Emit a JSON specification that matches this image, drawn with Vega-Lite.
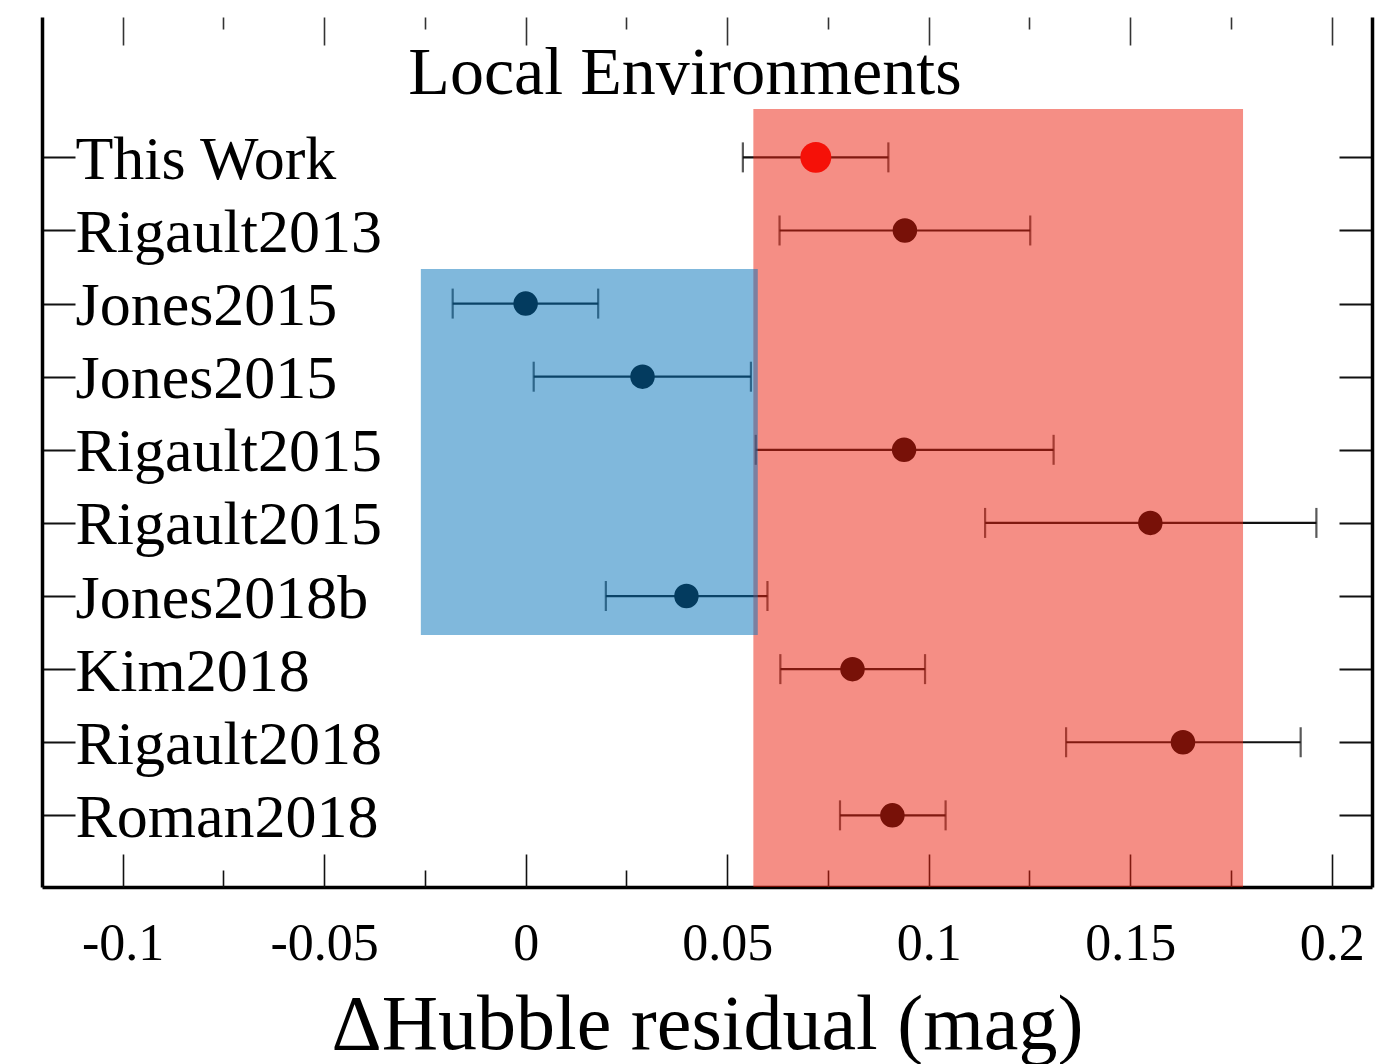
{
  "$schema": "https://vega.github.io/schema/vega-lite/v6.json",
  "width": 1330,
  "height": 870,
  "autosize": {"type": "none"},
  "padding": {"left": 42, "top": 17, "right": 12, "bottom": 177},
  "background": "white",
  "config": {"view": {"stroke": null}, "font": "Liberation Serif", "axis": {"grid": false}},
  "title": {"text": "Local Environments", "font": "Liberation Serif", "fontSize": 68, "fontWeight": "normal", "color": "black", "anchor": "middle", "frame": "group", "baseline": "alphabetic", "offset": -146, "dx": -22},
  "datasets": {
    "studies": [
      {"study": "This Work", "row": 10, "value": 0.072, "lo": 0.0539, "hi": 0.09, "kind": "this"},
      {"study": "Rigault2013", "row": 9, "value": 0.0941, "lo": 0.063, "hi": 0.1252, "kind": "other"},
      {"study": "Jones2015", "row": 8, "value": 0.0, "lo": -0.0181, "hi": 0.018, "kind": "other"},
      {"study": "Jones2015", "row": 7, "value": 0.029, "lo": 0.002, "hi": 0.0559, "kind": "other"},
      {"study": "Rigault2015", "row": 6, "value": 0.0939, "lo": 0.0571, "hi": 0.131, "kind": "other"},
      {"study": "Rigault2015", "row": 5, "value": 0.155, "lo": 0.114, "hi": 0.1962, "kind": "other"},
      {"study": "Jones2018b", "row": 4, "value": 0.0399, "lo": 0.0199, "hi": 0.06, "kind": "other"},
      {"study": "Kim2018", "row": 3, "value": 0.0811, "lo": 0.0632, "hi": 0.0991, "kind": "other"},
      {"study": "Rigault2018", "row": 2, "value": 0.1631, "lo": 0.1341, "hi": 0.1923, "kind": "other"},
      {"study": "Roman2018", "row": 1, "value": 0.091, "lo": 0.078, "hi": 0.1042, "kind": "other"}
    ],
    "regions": [
      {"region": "high", "x0": 0.0565, "x1": 0.178, "y0": 0.02, "y1": 10.66},
      {"region": "low", "x0": -0.026, "x1": 0.0576, "y0": 3.467, "y1": 8.473}
    ]
  },
  "resolve": {"axis": {"x": "independent", "y": "independent"}, "scale": {"color": "independent", "size": "independent"}},
  "layer": [
    {
      "data": {"name": "studies"},
      "mark": {"type": "rule", "strokeWidth": 2.2, "color": "#111111"},
      "encoding": {
        "x": {"field": "lo", "type": "quantitative", "scale": {"domain": [-0.12, 0.21], "nice": false, "zero": false},
          "axis": {"orient": "bottom", "values": [-0.1, -0.05, 0, 0.05, 0.1, 0.15, 0.2], "labelExpr": "'' + datum.value", "ticks": false, "tickSize": 0, "domain": true, "domainColor": "black", "domainWidth": 3.5, "labelFont": "Liberation Serif", "labelFontSize": 52, "labelColor": "black", "labelBaseline": "alphabetic", "labelPadding": 72, "labelFlush": false, "labelOverlap": false, "labelLimit": 0, "title": "ΔHubble residual (mag)", "titleFont": "Liberation Serif", "titleFontSize": 78, "titleFontWeight": "normal", "titleColor": "black", "titleBaseline": "alphabetic", "titleY": 161, "titleLimit": 0, "zindex": 0}},
        "x2": {"field": "hi"},
        "y": {"field": "row", "type": "quantitative", "scale": {"domain": [0.02, 11.92], "nice": false, "zero": false},
          "axis": {"orient": "left", "values": [1, 2, 3, 4, 5, 6, 7, 8, 9, 10], "labelExpr": "['', 'Roman2018', 'Rigault2018', 'Kim2018', 'Jones2018b', 'Rigault2015', 'Rigault2015', 'Jones2015', 'Jones2015', 'Rigault2013', 'This Work'][datum.value]", "tickSize": -33, "tickWidth": 2, "tickColor": "#111111", "labelPadding": 0, "labelAlign": "left", "labelBaseline": "alphabetic", "labelOffset": 21, "labelFont": "Liberation Serif", "labelFontSize": 62, "labelColor": "black", "labelLimit": 0, "labelOverlap": false, "labelFlush": false, "domainColor": "black", "domainWidth": 3.5, "title": null, "zindex": 0}}
      }
    },
    {
      "data": {"name": "studies"},
      "mark": {"type": "tick", "orient": "vertical", "size": 30, "thickness": 2.2, "color": "#111111"},
      "encoding": {
        "x": {"field": "lo", "type": "quantitative", "scale": {"domain": [-0.12, 0.21], "nice": false, "zero": false},
          "axis": {"orient": "bottom", "values": [-0.1, -0.05, 0, 0.05, 0.1, 0.15, 0.2], "labels": false, "domain": false, "ticks": true, "tickSize": -33, "tickWidth": 1.6, "tickColor": "#111111", "title": null, "zindex": 0}},
        "y": {"field": "row", "type": "quantitative", "scale": {"domain": [0.02, 11.92], "nice": false, "zero": false},
          "axis": {"orient": "right", "values": [1, 2, 3, 4, 5, 6, 7, 8, 9, 10], "labels": false, "tickSize": -33, "tickWidth": 2, "tickColor": "#111111", "domainColor": "black", "domainWidth": 3.5, "title": null, "zindex": 0}}
      }
    },
    {
      "data": {"name": "studies"},
      "mark": {"type": "tick", "orient": "vertical", "size": 30, "thickness": 2.2, "color": "#111111"},
      "encoding": {
        "x": {"field": "hi", "type": "quantitative", "scale": {"domain": [-0.12, 0.21], "nice": false, "zero": false},
          "axis": {"orient": "bottom", "values": [-0.075, -0.025, 0.025, 0.075, 0.125, 0.175], "labels": false, "domain": false, "ticks": true, "tickSize": -17, "tickWidth": 1.6, "tickColor": "#111111", "title": null, "zindex": 0}},
        "y": {"field": "row", "type": "quantitative", "scale": {"domain": [0.02, 11.92], "nice": false, "zero": false}, "axis": null}
      }
    },
    {
      "data": {"name": "studies"},
      "mark": {"type": "point", "filled": true, "opacity": 1},
      "encoding": {
        "x": {"field": "value", "type": "quantitative", "scale": {"domain": [-0.12, 0.21], "nice": false, "zero": false},
          "axis": {"orient": "top", "values": [-0.1, -0.05, 0, 0.05, 0.1, 0.15, 0.2], "labels": false, "domain": false, "ticks": true, "tickSize": -28, "tickWidth": 1.6, "tickColor": "#333333", "title": null, "zindex": 0}},
        "y": {"field": "row", "type": "quantitative", "scale": {"domain": [0.02, 11.92], "nice": false, "zero": false}, "axis": null},
        "color": {"field": "kind", "type": "nominal", "scale": {"domain": ["this", "other"], "range": ["#ff0000", "#000000"]}, "legend": null},
        "size": {"field": "kind", "type": "ordinal", "scale": {"domain": ["this", "other"], "range": [960, 600]}, "legend": null}
      }
    },
    {
      "data": {"name": "regions"},
      "mark": {"type": "rect", "opacity": 0.51},
      "encoding": {
        "x": {"field": "x0", "type": "quantitative", "scale": {"domain": [-0.12, 0.21], "nice": false, "zero": false},
          "axis": {"orient": "top", "values": [-0.075, -0.025, 0.025, 0.075, 0.125, 0.175], "labels": false, "domain": false, "ticks": true, "tickSize": -12, "tickWidth": 1.6, "tickColor": "#333333", "title": null, "zindex": 0}},
        "x2": {"field": "x1"},
        "y": {"field": "y0", "type": "quantitative", "scale": {"domain": [0.02, 11.92], "nice": false, "zero": false}, "axis": null},
        "y2": {"field": "y1"},
        "fill": {"field": "region", "type": "nominal", "scale": {"domain": ["high", "low"], "range": ["#eb2110", "#0674ba"]}, "legend": null}
      }
    }
  ]
}
